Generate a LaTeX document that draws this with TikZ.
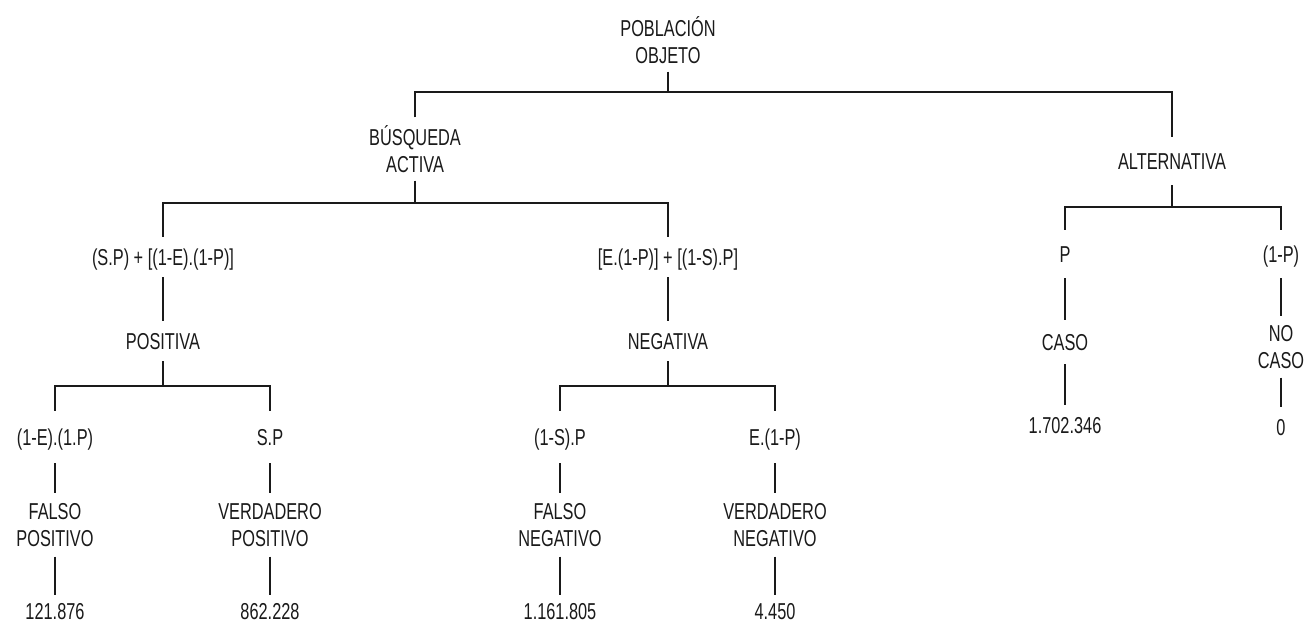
\documentclass[tikz,border=0pt]{standalone}
\usepackage{fontspec}
\setmainfont[FakeStretch=0.71]{Liberation Sans}
\definecolor{ink}{HTML}{1A1A1A}
\begin{document}
\begin{tikzpicture}[x=1pt,y=-1pt,
  one/.style={font=\fontsize{23}{26.5}\selectfont, text=ink, inner xsep=0pt, inner ysep=11pt, text height=16pt, text depth=0pt},
  two/.style={font=\fontsize{23}{26.5}\selectfont, text=ink, align=center, inner xsep=0pt, inner ysep=8pt},
  conn/.style={draw=ink, line width=1.4pt}]
\useasboundingbox[fill=white] (0,0) rectangle (1305,624);
% level 0
\node[two] (root) at (668,40) {POBLACIÓN\\OBJETO};
\coordinate (j0) at (668,92);
\node[two] (busq) at (415,149) {BÚSQUEDA\\ACTIVA};
\node[one, inner ysep=16pt] (alt) at (1172,161) {ALTERNATIVA};
% busqueda branch
\coordinate (j1) at (415,203);
\node[one, inner ysep=12pt] (fpos) at (163,257) {(S.P) + [(1-E).(1-P)]};
\node[one, inner ysep=12pt] (fneg) at (668,257) {[E.(1-P)] + [(1-S).P]};
\node[one, inner ysep=12pt] (pos) at (163,341) {POSITIVA};
\node[one, inner ysep=12pt] (neg) at (668,341) {NEGATIVA};
\coordinate (j2) at (163,386);
\coordinate (j3) at (668,386);
\node[one, inner ysep=18pt] (a1) at (55,437) {(1-E).(1.P)};
\node[one, inner ysep=18pt] (a2) at (270,437) {S.P};
\node[one, inner ysep=18pt] (c1) at (560,437) {(1-S).P};
\node[one, inner ysep=18pt] (c2) at (775,437) {E.(1-P)};
\node[two, inner ysep=10pt] (fp) at (55,525) {FALSO\\POSITIVO};
\node[two, inner ysep=10pt] (vp) at (270,525) {VERDADERO\\POSITIVO};
\node[two, inner ysep=10pt] (fn) at (560,525) {FALSO\\NEGATIVO};
\node[two, inner ysep=10pt] (vn) at (775,525) {VERDADERO\\NEGATIVO};
\node[one, inner ysep=8pt] (n1) at (55,611) {121.876};
\node[one, inner ysep=8pt] (n2) at (270,611) {862.228};
\node[one, inner ysep=8pt] (n3) at (560,611) {1.161.805};
\node[one, inner ysep=8pt] (n4) at (775,611) {4.450};
% alternativa branch
\coordinate (j4) at (1172,207);
\node[one, inner ysep=16pt] (p) at (1065,254) {P};
\node[one, inner ysep=16pt] (q) at (1281,254) {(1-P)};
\node[one, inner ysep=14pt] (caso) at (1065,342) {CASO};
\node[two, inner ysep=9pt] (nocaso) at (1281,347) {NO\\CASO};
\node[one, inner ysep=12pt] (m1) at (1065,425) {1.702.346};
\node[one, inner ysep=12pt] (m2) at (1281,427) {0};
% connectors
\draw[conn] (root.south) -- (j0);
\draw[conn] (busq.north) |- (j0) -| (alt.north);
\draw[conn] (busq.south) -- (j1);
\draw[conn] (fpos.north) |- (j1) -| (fneg.north);
\draw[conn] (fpos.south) -- (pos.north);
\draw[conn] (fneg.south) -- (neg.north);
\draw[conn] (pos.south) -- (j2);
\draw[conn] (neg.south) -- (j3);
\draw[conn] (a1.north) |- (j2) -| (a2.north);
\draw[conn] (c1.north) |- (j3) -| (c2.north);
\draw[conn] (a1.south) -- (fp.north);
\draw[conn] (a2.south) -- (vp.north);
\draw[conn] (c1.south) -- (fn.north);
\draw[conn] (c2.south) -- (vn.north);
\draw[conn] (fp.south) -- (n1.north);
\draw[conn] (vp.south) -- (n2.north);
\draw[conn] (fn.south) -- (n3.north);
\draw[conn] (vn.south) -- (n4.north);
\draw[conn] (alt.south) -- (j4);
\draw[conn] (p.north) |- (j4) -| (q.north);
\draw[conn] (p.south) -- (caso.north);
\draw[conn] (q.south) -- (nocaso.north);
\draw[conn] (caso.south) -- (m1.north);
\draw[conn] (nocaso.south) -- (m2.north);
\end{tikzpicture}
\end{document}
